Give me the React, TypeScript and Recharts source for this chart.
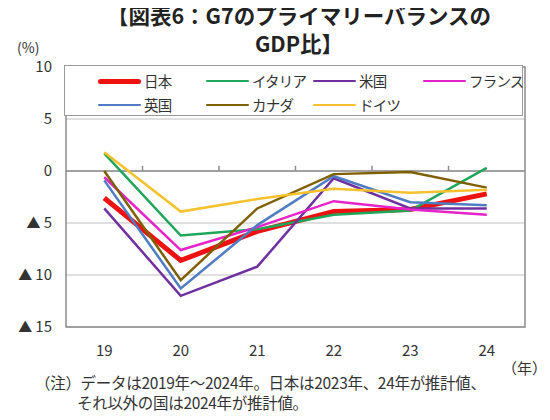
import { LineChart, Line, XAxis, YAxis, CartesianGrid, ReferenceLine, ReferenceArea } from "recharts";

const years = [19, 20, 21, 22, 23, 24];
const japan = [-2.6, -8.6, -5.8, -3.9, -3.7, -2.2];
const italy = [1.7, -6.2, -5.6, -4.2, -3.8, 0.3];
const usa = [-3.6, -12.0, -9.2, -0.7, -3.6, -3.6];
const france = [-0.6, -7.6, -5.4, -2.9, -3.7, -4.2];
const uk = [-0.9, -11.3, -5.2, -0.5, -3.0, -3.3];
const canada = [0.0, -10.5, -3.6, -0.3, -0.1, -1.6];
const germany = [1.8, -3.9, -2.7, -1.7, -2.1, -1.8];
const yTicks = [-15, -10, -5, 0, 5, 10];
const boundaries = [19.5, 20.5, 21.5, 22.5, 23.5];

const series = [
  { key: "japan", name: "日本", values: japan, color: "#ee1111", width: 5 },
  { key: "italy", name: "イタリア", values: italy, color: "#1fa65a", width: 2.5 },
  { key: "usa", name: "米国", values: usa, color: "#70309f", width: 2.5 },
  { key: "france", name: "フランス", values: france, color: "#e623c9", width: 2.5 },
  { key: "uk", name: "英国", values: uk, color: "#4f7cc2", width: 2.5 },
  { key: "canada", name: "カナダ", values: canada, color: "#7f6000", width: 2.5 },
  { key: "germany", name: "ドイツ", values: germany, color: "#f5c12e", width: 2.5 },
];

const data = years.map((year, i) => {
  const row: Record<string, number> = { year };
  series.forEach((s) => (row[s.key] = s.values[i]));
  return row;
});

const font = "'Noto Sans CJK JP', 'Noto Sans', sans-serif";

// negative values are shown with a ▲ in front, Japanese style
function YTick({ x, y, payload }: any) {
  const v = payload.value as number;
  return (
    <text x={x} y={y} dy={5} textAnchor="end" fontSize={15} fill="#333" fontFamily={font}>
      {v < 0 && <tspan fontSize={14}>▲ </tspan>}
      {Math.abs(v)}
    </text>
  );
}

export default function App() {
  const legendCols = [33, 141, 248, 358];
  return (
    <div style={{ position: "relative", width: 550, height: 420, margin: -8, background: "#fff", fontFamily: font, color: "#333" }}>
      <div style={{ position: "absolute", top: 1, left: 0, width: 598, textAlign: "center", fontSize: 21.5, fontWeight: 700, lineHeight: "28px", color: "#222" }}>
        【図表6：G7のプライマリーバランスの
        <br />
        GDP比】
      </div>
      <div style={{ position: "absolute", top: 37, left: 17, fontSize: 14 }}>(%)</div>
      <LineChart width={550} height={420} data={data} margin={{ top: 67, right: 25, left: 0, bottom: 63 }}>
        <CartesianGrid vertical={false} stroke="#d4d4d4" strokeWidth={1.5} />
        <XAxis
          dataKey="year"
          type="number"
          domain={[18.5, 24.5]}
          ticks={years}
          axisLine={false}
          tickLine={false}
          tickMargin={12}
          tick={{ fontSize: 15, fill: "#333", fontFamily: font }}
        />
        <YAxis
          domain={[-15, 10]}
          ticks={yTicks}
          width={66}
          axisLine={false}
          tickLine={false}
          tickMargin={8}
          tick={<YTick />}
        />
        <ReferenceArea x1={18.5} x2={24.5} y1={-15} y2={10} fill="none" stroke="#8c8c8c" strokeWidth={1.5} />
        <ReferenceLine y={0} stroke="#8c8c8c" strokeWidth={1.5} />
        {boundaries.map((b) => (
          <ReferenceLine key={b} segment={[{ x: b, y: 0 }, { x: b, y: 0.5 }]} stroke="#8c8c8c" strokeWidth={1.5} />
        ))}
        {series.map((s) => (
          <Line
            key={s.key}
            dataKey={s.key}
            stroke={s.color}
            strokeWidth={s.width}
            dot={false}
            isAnimationActive={false}
          />
        ))}
      </LineChart>
      <div style={{ position: "absolute", top: 65, left: 64, width: 459, height: 51, border: "1.5px solid #9a9a9a", background: "#fff", boxSizing: "border-box" }}>
        {series.map((s, i) => (
          <div
            key={s.key}
            style={{ position: "absolute", top: i < 4 ? 5 : 29, left: legendCols[i % 4], display: "flex", alignItems: "center", fontSize: 14.5, letterSpacing: -0.8, lineHeight: "20px", whiteSpace: "nowrap" }}
          >
            <span style={{ display: "inline-block", width: 43, height: s.width, background: s.color, borderRadius: 3, marginRight: 3 }} />
            {s.name}
          </div>
        ))}
      </div>
      <div style={{ position: "absolute", top: 357, left: 502, fontSize: 15 }}>（年）</div>
      <div style={{ position: "absolute", top: 372, left: 35, fontSize: 15.5, lineHeight: "20px", letterSpacing: -0.3 }}>
        <div>（注）データは2019年～2024年。日本は2023年、24年が推計値、</div>
        <div style={{ paddingLeft: 42 }}>それ以外の国は2024年が推計値。</div>
      </div>
    </div>
  );
}
